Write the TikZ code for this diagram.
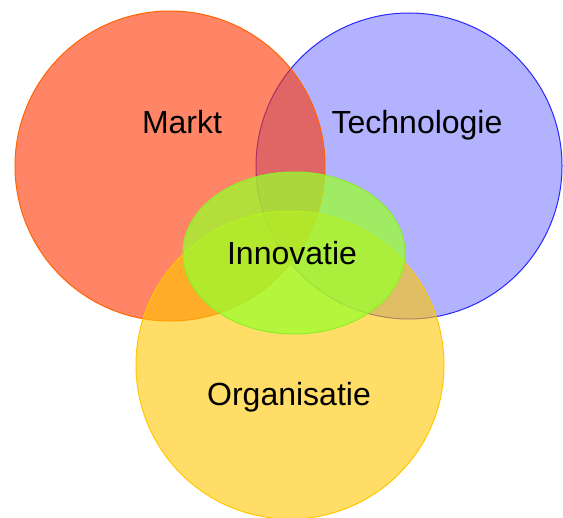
\documentclass[tikz,border=0pt]{standalone}
\usepackage{fontspec}
\setmainfont{Liberation Sans}
\usepackage{tikz}
\usetikzlibrary{shapes.geometric}

\definecolor{marktfill}{RGB}{255,52,0}
\definecolor{marktline}{RGB}{255,100,0}
\definecolor{techfill}{RGB}{102,102,255}
\definecolor{techline}{RGB}{40,40,255}
\definecolor{orgfill}{RGB}{255,198,0}
\definecolor{orgline}{RGB}{255,200,0}
\definecolor{innofill}{RGB}{154,255,46}
\definecolor{innoline}{RGB}{140,240,40}

\begin{document}
\begin{tikzpicture}[
  x=0.75pt, y=-0.75pt,
  font=\fontsize{24}{28}\selectfont,
  set/.style={circle, inner sep=0pt, line width=0.75pt},
  core/.style={ellipse, inner sep=0pt, line width=0.75pt},
  lbl/.style={anchor=base, inner sep=0pt},
]
  \useasboundingbox (0,0) rectangle (563,517);

  % the three sets, back to front
  \node[set, draw=techline, fill=techfill, fill opacity=0.5,
    minimum size=229.5pt] (tech) at (409,166) {};
  \node[set, draw=marktline, fill=marktfill, fill opacity=0.6,
    minimum size=232.5pt] (markt) at (170,166) {};
  \node[set, draw=orgline, fill=orgfill, fill opacity=0.6,
    minimum size=231pt] (org) at (290,365) {};
  \node[core, draw=innoline, fill=innofill, fill opacity=0.74,
    minimum width=166.5pt, minimum height=121.5pt] (inno) at (294,253) {};

  % labels
  \node[lbl] (marktlbl) at (182,133) {Markt};
  \node[lbl] (techlbl) at (417,133) {Technologie};
  \node[lbl] (innolbl) at (292,264) {Innovatie};
  \node[lbl] (orglbl) at (289,405) {Organisatie};
\end{tikzpicture}
\end{document}
